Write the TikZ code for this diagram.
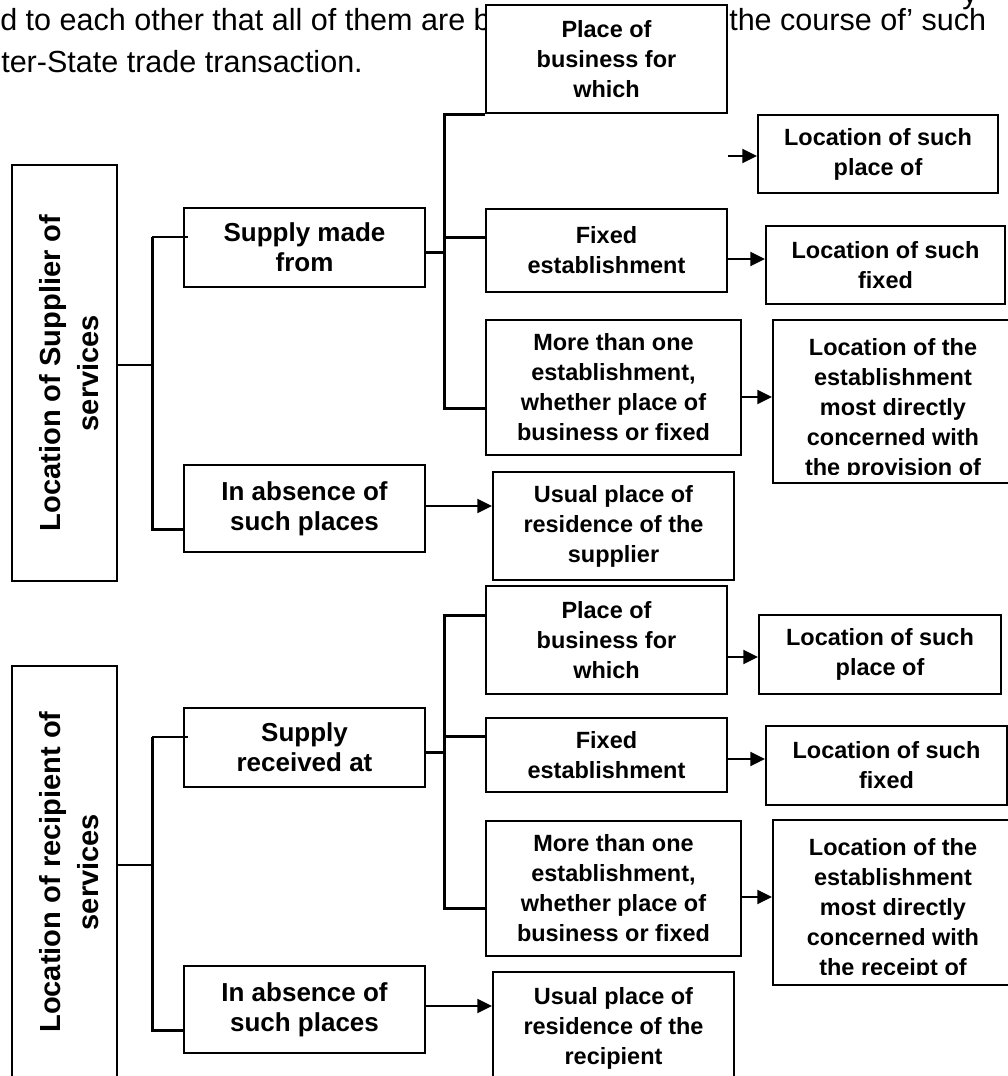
\documentclass[tikz,border=0pt]{standalone}
\usepackage{fontspec}
\setmainfont{Liberation Sans}
\usetikzlibrary{arrows.meta,calc}
\begin{document}
\begin{tikzpicture}[x=0.75pt,y=-0.75pt,
  box/.style={draw=black, line width=1.5pt, fill=white, inner sep=0pt, align=center,
    font=\bfseries\fontsize{19.5}{22.5}\selectfont},
  rbox/.style={box, font=\bfseries\fontsize{17.6}{22.5}\selectfont},
  rtext/.style={inner sep=0pt, align=center, font=\bfseries\fontsize{17.6}{22.5}\selectfont},
  sidebox/.style={box, rotate=90},
  sidetext/.style={inner sep=0pt, align=center, rotate=90, font=\bfseries\fontsize{21.8}{28.5}\selectfont},
  sz/.style 2 args={minimum width=#1*0.75pt, minimum height=#2*0.75pt},
  barline/.style={line width=2.25pt},
  thinline/.style={line width=1.1pt},
  arr/.style={line width=1.5pt, -{Triangle[length=11pt,width=10.5pt]}},
  body/.style={inner sep=0pt, anchor=base west, font=\fontsize{22.9}{27}\selectfont}
]
\useasboundingbox (0,0) rectangle (1008,1076);
\clip (0,0) rectangle (1008,1076);

% body text behind the diagram
\node[body] (t1) at (0,30) {d to each other that all of them are b};
\node[body] (t2) at (729,30) {the course of’ such};
\node[body] (t3) at (1,72) {ter-State trade transaction.};
\node[body] (t4) at (962,3) {y};

% ---------- supplier ----------
\node[sidebox, sz={416}{105}] (A1) at (64.5,373) {};
\node[sidetext] (A1t) at (69,373) {Location of Supplier of\\services};
\node[box, sz={241}{79}] (B1) at (304.5,247.5) {Supply made\\from};
\node[box, sz={241}{87}] (B2) at (304.5,508.5) {In absence of\\such places};
\node[rbox, sz={241}{108}] (C1) at (606.5,59) {Place of\\business for\\which};
\node[rbox, sz={241}{83}] (C2) at (606.5,250.5) {Fixed\\establishment};
\node[rbox, sz={255}{135}] (C3) at (613.5,387.5) {More than one\\establishment,\\whether place of\\business or fixed};
\node[rbox, sz={240}{78}] (D1) at (878,154) {Location of such\\place of};
\node[rbox, sz={239}{78}] (D2) at (885.5,265) {Location of such\\fixed};
\node[rbox, sz={240}{163}] (D3) at (893,401.5) {};
\begin{scope}
  \clip (D3.north west) rectangle ($(D3.south east)+(0,-10)$);
  \node[rtext] (D3t) at (893,409) {Location of the\\establishment\\most directly\\concerned with\\the provision of};
\end{scope}
\node[rbox, sz={241}{108}] (E1) at (613.5,526) {Usual place of\\residence of the\\supplier};

% ---------- recipient ----------
\node[sidebox, sz={412}{105}] (A2) at (64.5,872) {};
\node[sidetext] (A2t) at (69,872) {Location of recipient of\\services};
\node[box, sz={241}{79}] (B3) at (304.5,747.5) {Supply\\received at};
\node[box, sz={241}{87}] (B4) at (304.5,1009.5) {In absence of\\such places};
\node[rbox, sz={241}{108}] (C4) at (606.5,640) {Place of\\business for\\which};
\node[rbox, sz={241}{74}] (C5) at (606.5,755) {Fixed\\establishment};
\node[rbox, sz={255}{135}] (C6) at (613.5,888.5) {More than one\\establishment,\\whether place of\\business or fixed};
\node[rbox, sz={242}{79}] (D4) at (880,654.5) {Location of such\\place of};
\node[rbox, sz={241}{79}] (D5) at (886.5,765.5) {Location of such\\fixed};
\node[rbox, sz={240}{165}] (D6) at (893,902.5) {};
\begin{scope}
  \clip (D6.north west) rectangle ($(D6.south east)+(0,-12)$);
  \node[rtext] (D6t) at (893,909) {Location of the\\establishment\\most directly\\concerned with\\the receipt of};
\end{scope}
\node[rbox, sz={241}{112}] (E2) at (613.5,1028) {Usual place of\\residence of the\\recipient};

% ---------- supplier connectors ----------
\coordinate (s1) at (152,365);
\coordinate (s1t) at (152,237);
\coordinate (s1b) at (152,529);
\draw[thinline] (A1.south |- s1) -- (s1);
\draw[barline] (B2.west |- s1b) -- (s1b) -- (s1t);
\draw[thinline] (s1t) -- ($(B1.west |- s1t)+(5,0)$);
\coordinate (s2) at (444,252);
\coordinate (s2t) at (444,114);
\coordinate (s2m) at (444,237);
\coordinate (s2b) at (444,408);
\draw[barline] (B1.east |- s2) -- (s2);
\draw[barline] (C1.west |- s2t) -- (s2t) -- (s2b) -- (C3.west |- s2b);
\draw[barline] (s2m) -- (C2.west |- s2m);
\coordinate (f1) at (728,156);
\coordinate (a2) at (0,259);
\coordinate (a3) at (0,397);
\coordinate (a4) at (0,506);
\draw[arr] (f1) -- (D1.west |- f1);
\draw[arr] (C2.east |- a2) -- (D2.west |- a2);
\draw[arr] (C3.east |- a3) -- (D3.west |- a3);
\draw[arr] (B2.east |- a4) -- (E1.west |- a4);

% ---------- recipient connectors ----------
\coordinate (r1) at (152,865);
\coordinate (r1t) at (152,737);
\coordinate (r1b) at (152,1030);
\draw[thinline] (A2.south |- r1) -- (r1);
\draw[barline] (B4.west |- r1b) -- (r1b) -- (r1t);
\draw[thinline] (r1t) -- ($(B3.west |- r1t)+(5,0)$);
\coordinate (r2) at (444,752);
\coordinate (r2t) at (444,615);
\coordinate (r2m) at (444,736);
\coordinate (r2b) at (444,908);
\draw[barline] (B3.east |- r2) -- (r2);
\draw[barline] (C4.west |- r2t) -- (r2t) -- (r2b) -- (C6.west |- r2b);
\draw[barline] (r2m) -- (C5.west |- r2m);
\coordinate (b1) at (0,657);
\coordinate (b2) at (0,759);
\coordinate (b3) at (0,897);
\coordinate (b4) at (0,1006);
\draw[arr] (C4.east |- b1) -- (D4.west |- b1);
\draw[arr] (C5.east |- b2) -- (D5.west |- b2);
\draw[arr] (C6.east |- b3) -- (D6.west |- b3);
\draw[arr] (B4.east |- b4) -- (E2.west |- b4);
\end{tikzpicture}
\end{document}
